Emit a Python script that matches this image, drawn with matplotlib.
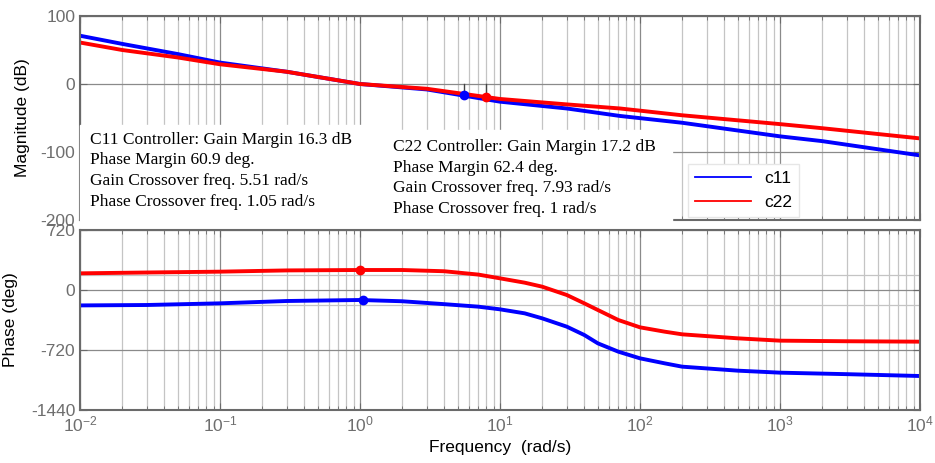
import matplotlib.pyplot as plt
from matplotlib.patches import Rectangle

plt.rcParams["font.family"] = ["Liberation Sans", "DejaVu Sans"]
plt.rcParams["mathtext.fontset"] = "custom"
plt.rcParams["mathtext.rm"] = "Liberation Sans"
plt.rcParams["mathtext.it"] = "Liberation Sans"
plt.rcParams["axes.unicode_minus"] = False

# values
freq = [0.01, 0.02, 0.05, 0.1, 0.3, 1, 3, 10, 30, 72, 200, 1000, 2000, 10000]
mag_c11 = [71, 59, 44, 31.5, 18, 0, -8, -26, -36, -47, -57, -77, -84, -105]
mag_c22 = [61, 50, 39, 29, 18, 0, -7, -22, -30, -36, -46, -59, -65, -80]

pfreq = [0.01, 0.03, 0.1, 0.3, 1, 2, 4, 7, 10, 15, 20, 30, 40, 50, 70,
         100, 150, 200, 500, 1000, 3000, 10000]
ph_c11 = [-185, -180, -160, -132, -120, -135, -170, -200, -232, -280, -340, -440,
          -540, -640, -740, -820, -880, -920, -968, -992, -1010, -1032]
ph_c22 = [200, 210, 220, 235, 240, 240, 225, 185, 140, 88, 40, -60,
          -160, -240, -360, -448, -500, -532, -580, -608, -615, -620]

gm_pts = {"c11": (5.51, -16.5), "c22": (7.93, -18.5)}
pm_pts = {"c11": (1.05, -120), "c22": (1.0, 240)}

c11_text = ["C11 Controller: Gain Margin 16.3 dB", "Phase Margin 60.9 deg.",
            "Gain Crossover freq. 5.51 rad/s", "Phase Crossover freq. 1.05 rad/s"]
c22_text = ["C22 Controller: Gain Margin 17.2 dB", "Phase Margin 62.4 deg.",
            "Gain Crossover freq. 7.93 rad/s", "Phase Crossover freq. 1 rad/s"]

W, H = 935, 463
fig = plt.figure(figsize=(W / 100, H / 100), dpi=100)


def px(x0, y0, x1, y1):
    return [x0 / W, 1 - y1 / H, (x1 - x0) / W, (y1 - y0) / H]


ax1 = fig.add_axes(px(80, 16, 920, 220))
ax2 = fig.add_axes(px(80, 230, 920, 410))

edge = "#6a6a6a"
for ax in (ax1, ax2):
    ax.set_xscale("log")
    ax.set_xlim(1e-2, 1e4)
    ax.grid(True, which="major", axis="x", color="#8a8a8a", lw=0.9)
    ax.grid(True, which="minor", axis="x", color="#c4c4c4", lw=0.9)
    ax.grid(True, which="major", axis="y", color="#8a8a8a", lw=0.9)
    for s in ax.spines.values():
        s.set_color(edge)
        s.set_linewidth(1.5)
    ax.tick_params(which="both", direction="in", top=True, right=True,
                   colors=edge, labelcolor="#6e6e6e", labelsize=12.5)
    ax.tick_params(which="major", length=5)
    ax.tick_params(which="minor", length=3)
    ax.set_axisbelow(True)

ax1.set_ylim(-200, 100)
ax1.set_yticks([100, 0, -100, -200])
ax1.tick_params(labelbottom=False)
ax1.set_ylabel("Magnitude (dB)", fontsize=12.5)
ax1.yaxis.set_label_coords(-0.06, 0.5)

ax2.set_ylim(-1440, 720)
ax2.set_yticks([720, 0, -720, -1440])
for v in (180, -180):
    ax2.axhline(v, color="#c4c4c4", lw=0.9, zorder=0)
ax2.set_ylabel("Phase (deg)", fontsize=12.5)
ax2.yaxis.set_label_coords(-0.074, 0.5)
ax2.set_xlabel("Frequency  (rad/s)", fontsize=12.5)

l1, = ax1.plot(freq, mag_c11, color="blue", lw=2.8, label="c11")
l2, = ax1.plot(freq, mag_c22, color="red", lw=2.8, label="c22")
ax2.plot(pfreq, ph_c11, color="blue", lw=2.8)
ax2.plot(pfreq, ph_c22, color="red", lw=2.8)

for name, col in (("c11", "blue"), ("c22", "red")):
    gx, gy = gm_pts[name]
    ax1.plot([gx, gx], [0, gy], color="#444444", lw=1)
    ax1.plot(gx, gy, "o", color=col, ms=6)
    px_, py_ = pm_pts[name]
    ax2.plot(px_, py_, "o", color=col, ms=6)

# white annotation boxes like the original export
fig.patches.append(Rectangle((80 / W, 1 - 221 / H), 308 / W, 96 / H,
                             transform=fig.transFigure, color="white", zorder=5))
fig.patches.append(Rectangle((388 / W, 1 - 226 / H), 284 / W, 96 / H,
                             transform=fig.transFigure, color="white", zorder=5))

for i, s in enumerate(c11_text):
    fig.text(90 / W, 1 - (140 + i * 20.5) / H, s, family="Liberation Serif",
             fontsize=12.5, va="center", zorder=6)
for i, s in enumerate(c22_text):
    fig.text(393 / W, 1 - (147 + i * 20.5) / H, s, family="Liberation Serif",
             fontsize=12.5, va="center", zorder=6)

leg = ax1.legend(handles=[l1, l2], loc="lower left", bbox_to_anchor=(0.724, 0.015),
                 borderaxespad=0, fontsize=12.5, handlelength=3.2, framealpha=1,
                 edgecolor="#e6e6e6", fancybox=False)
for h in leg.get_lines():
    h.set_linewidth(1.3)
leg.set_zorder(7)

fig.savefig("out.png", dpi=100)
